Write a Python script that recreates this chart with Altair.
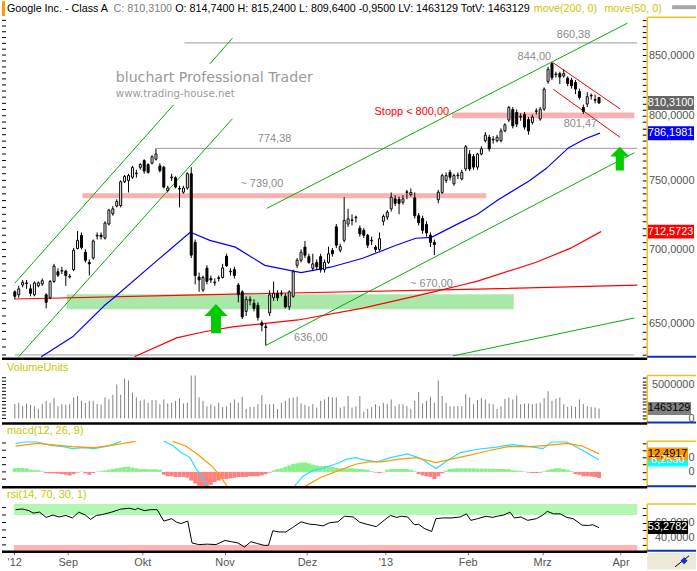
import altair as alt
import pandas as pd

FONT = "Liberation Sans"

# ---------------- price data (index = trading day, 0 = 15 Aug 2012) ----------------
opens = [671,669,675.6,676.5,673,669,675,676.3,669,667,
         678,684.6,685,685,681,686,700.7,710,698,691,
         694,709.5,710,708,718,725.4,731,731.4,749,750,
         752.4,755,759.8,765,762,763,766,761,760,742.4,
         752,752,744,741.2,744.3,755,705,681,672.2,687,
         680,677,680,680.7,695.3,684.6,686,675.6,671,658,
         665,663.4,662,650.5,648,657,667,670,669.5,668,
         661,668,689,692.5,701.7,695,687,691,695,686,
         691,699.4,716,699.4,706.4,718,720.5,722.5,715,713.5,
         710,706,701.7,700,720,723,729,736.3,736,733.8,
         741,739.5,737,724,722,717.7,710,705,735.6,741,
         750,756,747.4,753.5,751,758.6,770,768,760,770,
         780.3,783,781,780.3,780.3,788,796.6,805,802.6,799,
         801,797,794.7,803.5,797.4,805.3,828,842.8,833.5,834.4,
         832.5,830.6,829,827,819.7,806.6,809.4,816,813,814.74]
highs = [672,675,679,679,676,678,678,680,670,679,
         690,687,688,686,683,701,713,712,700,693,
         707,712,712,720,729,731,736,750,754,755,
         761,758,763,766,763,769,774.38,763,761,746,
         755,753,746,746,756,760,707,684,682,689,
         682,680,682,690,697,687,688,677,672,668,
         668,666,664,652,650,672,678,672,672,670,
         672,686,694,700,706,697,697,693,697,693,
         702,701,718,704,737.5,729,725,724,717,715,
         711,709,703,712,725,728,741,739,738,739,
         743,744,741,726,724,720,712,707,743,755,
         756,758,755,756,758,777,773,770,771,776,
         787,785,784,785,790,794,808,807,805,802,
         803,799,801,806,807,823,840,844,836,836,
         838,832,831,829,822,809,819,818,817,815.24]
lows = [666,667,674,673,668,668,674,675,660,666,
        677,681,683,675,680,685,700,700,691,682,
        693,707,707,707,717,724,730,730,748,741,
        751,752,758,755,755,762,765,756,744,741,
        749.5,744,730,740,743,694,676,671,671,676,
        677,675,678,680,688,682,680,664,653,655,
        662,658,652,645,636,655,665,665,668,660,
        659,667,687,691,694,690,685,686,684,684,
        690,695,701,698,705,716,717,719,709,708,
        701,703,698,699,717,721,727,731,725,732,
        736,738,722,717,711,709,701.7,696,733,740,
        748,750,746,751,750,757,757,758,758,769,
        779,772,778,779,779,787,795,790,791,796,
        789,785,793,801,796,804,826,829,831,825.7,
        831,824,822,817.6,813,801.47,807,813,810,809.64]
closes = [668,673,677.4,677,670,677,677,678.5,664,678,
          688.5,682.3,685.5,682,681.5,699.4,706.4,701.4,692.5,690,
          706,710,709,718.7,728,729,734.4,749,753,753.6,
          759.8,755.5,762,757,756,768,770,757.3,745,744.3,
          752.5,745,743.5,744.3,755,696,682,679,680.7,678,
          679,677.5,680.5,687.2,688.6,685,682,669,654.4,666,
          666,660,654,649,647.5,669,670,667,670,661,
          671,684.6,692.5,698,696,691,690,688,686,691,
          697,697,703,702,720.6,721.7,721,723,711,710,
          703,706.5,700,707.6,723.5,726.6,737.5,733,733,736.3,
          741.5,741,724,719,713.5,711.6,705,703.4,741.2,753.6,
          753.6,752.4,753.6,754,756,775.6,758.6,760,770,774,
          784.7,774,781.5,783,788,792.8,806.6,792,793.4,799.5,
          791,788,799,804,805.3,821.6,838,831,834,831.6,
          834.4,826.2,824.4,821.6,814.8,803.4,815.4,816.5,812.5,810.31]
# volume in millions
volumes_m = [2.1,2.3,1.8,2.2,2.0,1.8,1.4,2.1,2.6,2.3,
             3.0,1.8,2.1,2.0,2.1,3.1,3.3,2.6,2.3,2.6,
             2.6,2.1,2.0,3.1,2.8,3.5,5.0,3.5,5.9,5.6,
             3.8,3.1,2.6,2.8,2.3,2.7,2.7,2.1,2.8,2.2,
             2.3,2.6,3.0,2.2,2.3,6.4,6.4,3.1,2.6,1.8,
             2.1,1.8,2.3,1.7,1.8,2.3,2.8,2.3,3.2,1.4,
             1.7,1.7,2.1,3.4,2.1,2.1,2.1,1.4,2.3,2.6,
             3.0,3.1,3.2,2.2,2.0,1.8,2.1,1.6,2.6,2.8,
             3.2,3.1,3.1,1.6,1.8,3.3,1.6,1.8,3.3,1.0,
             1.4,1.7,2.1,1.8,2.3,2.1,2.8,1.8,2.1,2.1,
             1.8,1.4,2.6,3.9,2.2,2.6,3.2,2.3,5.6,3.3,
             2.3,1.8,1.8,1.8,1.8,3.6,3.1,2.1,2.7,3.0,
             2.8,2.2,2.1,1.4,1.8,2.9,3.1,2.8,3.4,2.1,
             2.2,2.2,2.1,2.2,2.3,3.0,4.0,2.6,2.9,3.1,
             2.1,1.7,1.8,1.7,2.8,2.1,1.8,1.7,1.6,1.463129]

# moving averages
ma50_i = [6.75,14.75,23,25.5,35.5,44.75,49.75,56.25,63.75,73,80.5,88.75,97.25,102.25,106.25,113.75,118,123,131.25,135.5,141.25,145.5,149.25]
ma50_p = [628.2,641.5,662.2,667.5,690.5,712.1,706.4,701.6,689.0,684.0,687.7,693.9,702.9,707.9,708.5,719.2,725.0,735.1,749.8,758.9,774.9,781.9,786.2]
ma200_i = [30.5,41.25,48,55.5,72.25,88.75,105.5,113.75,118,133,141.75,149.5]
ma200_p = [628.0,640.8,644.6,647.9,652.4,660.2,670.1,675.4,678.2,691.1,700.9,712.57]
flat_i = [0,55.5,118,158.75]
flat_p = [666.2,669.4,672.8,675.5]

# trend lines (segment, index, price)
trend_seg = ["A1","A1","A2","A2","B","B","C","C","D","D","E","E"]
trend_i = [0,40.5,49.75,55.5,1,55.5,64.25,156.25,64,158,111.75,158]
trend_p = [676.8,808.8,842.5,864.5,628.8,797.6,729.3,877.5,636.0,771.0,629.4,653.7]
down_seg = ["U","U","L","L"]
down_i = [137.3,154.4,137.3,154.4]
down_p = [843.5,805.4,821.5,782.9]

# horizontal levels
hl_x0 = [43.25,36.25,0]
hl_x1 = [158.75,158.75,158]
hl_p = [860.38,774.38,630]
band_x0 = [13.25,17.25,111.5]
band_x1 = [127.25,120.25,158]
band_lo = [659.5,736.8,798.1]
band_hi = [669.4,740.5,802.6]
band_col = ["#aae8aa","#f9b2b2","#f9b2b2"]

# annotations
ann_t = ["860,38","844,00","Stopp < 800,00","801,47","774,38","~ 739,00","~ 670,00","636,00"]
ann_i = [142.5,132.5,101.25,144.25,66.25,63,106.25,75.5]
ann_p = [867.2,848.4,803.2,793.6,781.9,747.6,676.1,640.8]
ann_c = ["#8c8c8c","#8c8c8c","#ff0000","#8c8c8c","#8c8c8c","#8c8c8c","#8c8c8c","#8c8c8c"]
arrow_i = [51.3,154.3]
arrow_p = [653.3,766.5]
arrow_s = [858,576]

# MACD
macd_seg = [0]*11 + [1]*7 + [2]*26
macd_i = [0.2,2.4,5.8,9.1,12.4,14.7,17.4,20.2,23.6,25.8,27.1,
          38,40.2,42.4,44.7,46.3,48,49.1,
          71.3,73.6,75.8,78,80.2,82.4,84.7,86.9,89.1,92.4,95.8,100.2,103.6,107.4,110.2,113.6,118,122.4,126.9,131.3,134.7,136.9,140.8,142.4,145.8,149]
macd_v = [19.8,20.7,20.7,18.4,17.5,16.1,16.8,16.1,17.9,19.8,21.17,
          21.17,18.4,13.4,9.9,1.9,-5.0,-9.86,
          -9.86,-2.8,0.7,2.3,4.1,6.0,8.8,9.9,8.3,6.9,9.9,12.4,9.2,2.3,7.6,13.4,15.7,17.0,18.9,17.5,16.1,20.7,20.7,18.4,13.4,8.25]
sig_seg = [0]*7 + [1]*6 + [2]*18
sig_i = [0.2,5.8,9.1,14.7,20.2,24.7,30.8,
         40.2,43.6,46.9,50.2,52.4,54.1,
         74.1,78,82.4,86.9,90.2,93.6,98,102.4,107.4,111.3,115.8,120.2,125.8,131.3,135.8,140.8,144.7,149]
sig_v = [17.9,19.8,18.9,17.5,16.8,18.4,21.17,
         21.17,17.9,11.5,4.1,-2.8,-9.86,
         -9.86,-3.9,0.7,5.3,6.9,6.9,8.8,9.9,6.5,8.8,11.5,14.3,17.5,17.5,18.4,19.8,17.9,12.49]
hist = [2.5,2.8,2.8,2.5,1.5,1.2,1.2,0.5,-0.8,-1,
        -1,-1.2,-1.5,-2,-2.5,-1.5,-0.5,0.3,-1,-2,
        -0.8,0.3,0.5,1,1.5,2,2.5,3,3.5,3.5,
        3,2.5,2,2,1.8,1.8,1.8,1.5,-2,-3,
        -3,-3.5,-3.5,-3.5,-4,-6,-8,-10,-10,-10,
        -9,-7,-6,-5,-5,-4.5,-4,-3.5,-3.5,-3.5,
        -3,-3,-3,-2.5,-1.5,-0.5,1,2,2.5,3.5,
        4.5,5.5,6,6.5,6.5,6,5,4.5,4,4,
        4,3.5,3,2.5,2.5,2.5,2.5,2.2,2,1.8,
        1.5,0.5,-0.5,-0.8,-0.3,1.5,2,2,2,2,
        2,1.5,0.5,-1.5,-2.5,-3,-3.5,-5,-3,-1,
        1,2,2.3,2.5,2.5,2.5,2.5,2.5,2.3,2.3,
        2.3,2.2,2.2,2,2,2,1.8,1.2,1,0.8,
        0.3,-0.5,-0.8,-0.8,-0.5,0.5,1.5,2,2.5,2.5,
        2,1.5,0.5,-1.5,-2,-3,-3,-3.2,-3.5,-4.2]

# RSI
rsi_i = [0.2,1.9,3.6,4.7,6.3,8,9.7,11.3,13,14.7,16.3,18,19.3,20.8,22.4,24.7,26.9,29.1,30.8,31.3,
         33,34.7,36.3,38,40,41.3,42.4,44.1,45.2,46.9,49.1,51.3,53.6,55.2,56.9,58.6,60.2,61.9,63.6,64.7,
         65.8,67.4,69.1,70.8,73,75.2,76.9,78.6,80.2,82.4,84.1,86.3,88,89.7,92.2,94.7,95.8,97.4,98.6,100.2,
         101.9,103,104.4,106.3,107.4,109.1,111.3,113.6,115.2,116.3,118,120.2,121.9,123,124.7,126.3,127.4,129.1,130.8,133,
         134.7,135.8,137.4,139.1,140.8,142.4,144.7,146.3,147.4,148.6,149]
rsi_v = [77.2,78.1,75.9,72.6,73.9,66.8,70,67.4,69.4,66.1,73.9,70,64.2,69.4,70.7,73.9,77.8,79.1,77.2,79.1,
         75.9,77.2,77.2,61.9,65.1,60.3,58.6,61.9,32.6,30.4,31,30.4,35.9,34.3,32.6,27.1,34.3,31.7,29.4,29.4,
         48.9,47.3,47.3,53.1,60.9,57.7,57,55.4,59.6,60.9,68.4,67.4,60.3,57.7,54.4,65.1,69.4,66.8,68.4,67.4,
         57,57.7,52.1,47.9,65.1,66.1,66.1,67.4,71.6,62.9,65.1,68.4,66.8,68.4,70,73.9,66.1,67.4,62.9,65.1,
         70,74.9,71.6,71.6,66.8,65.1,56.4,56,57,54,53.28]

month_pos = [-0.15, 13.5, 32.5, 53.5, 74.5, 94.5, 115.5, 134.5, 154.5]
month_lab = ["'12", "Sep", "Okt", "Nov", "Dez", "'13", "Feb", "Mrz", "Apr"]

header = [("Google Inc. - Class A", 5, "#000000"),
          ("C: 810,3100", 112, "#808080"),
          ("O: 814,7400 H: 815,2400 L: 809,6400 -0,9500 LV: 1463129 TotV: 1463129", 174, "#000000"),
          ("move(200, 0)", 534, "#c8c800"),
          ("move(50, 0)", 605, "#c8c800")]

# ---------------- helpers ----------------
one = pd.DataFrame({"k": [0]})
N = len(closes)
idx = list(range(N))

xscale = alt.Scale(domain=[-2, 158.75], nice=False, zero=False)
pos_js = "[" + ",".join(repr(float(v)) for v in month_pos) + "]"
lab_js = "[" + ",".join('"' + s + '"' for s in month_lab) + "]"
x_expr = lab_js + "[indexof(" + pos_js + ", datum.value)]"
xaxis = alt.Axis(values=month_pos, labelExpr=x_expr, title=None, grid=False, domain=False,
                 ticks=True, tickSize=3, tickColor="#777777", labelColor="#555555",
                 labelFont=FONT, labelFontSize=11, labelPadding=2, labelOverlap=False,
                 labelFlush=False)


def X(f):
    return alt.X(f, type="quantitative", scale=xscale, axis=xaxis)


def yaxis(values, expr):
    return alt.Axis(orient="right", values=values, labelExpr=expr, title=None, grid=False,
                    domain=False, ticks=True, tickSize=4, tickColor="black",
                    labelAlign="right", labelPadding=48, labelColor="#555555",
                    labelFont=FONT, labelFontSize=11, labelOverlap=False)


def box_path(w, h):
    r = h / w
    return f"M-1,-{r:.3f}L1,-{r:.3f}L1,{r:.3f}L-1,{r:.3f}Z"


ARROW = "M0,-1L0.8,-0.18L0.34,-0.18L0.34,1L-0.34,1L-0.34,-0.18L-0.8,-0.18Z"

# ---------------- main price panel ----------------
pscale = alt.Scale(type="log", domain=[628.9, 882.8], range=[341, 0], nice=False, zero=False, clamp=True)
price_ticks = list(range(630, 881, 5))
paxis = yaxis(price_ticks, "datum.value % 50 == 0 ? replace(format(datum.value, '.4f'), '.', ',') : ''")


def YP(f):
    return alt.Y(f, type="quantitative", scale=pscale, axis=paxis)


cdf = pd.DataFrame({"i": idx, "o": opens, "h": highs, "l": lows, "c": closes})
band_df = pd.DataFrame({"x0": band_x0, "x1": band_x1, "p0": band_lo, "p1": band_hi, "col": band_col})
hl_df = pd.DataFrame({"x0": hl_x0, "x1": hl_x1, "p": hl_p})
trend_df = pd.DataFrame({"seg": trend_seg, "i": trend_i, "p": trend_p})
down_df = pd.DataFrame({"seg": down_seg, "i": down_i, "p": down_p})
ma50_df = pd.DataFrame({"i": ma50_i, "p": ma50_p})
ma200_df = pd.DataFrame({"i": ma200_i, "p": ma200_p})
flat_df = pd.DataFrame({"i": flat_i, "p": flat_p})
ann_df = pd.DataFrame({"i": ann_i, "p": ann_p, "t": ann_t, "col": ann_c})
arrow_df = pd.DataFrame({"i": arrow_i, "p": arrow_p, "s": arrow_s})
ptick_df = pd.DataFrame({"p": price_ticks})
wm_df = pd.DataFrame({"i": [25.75, 25.75], "p": [830.8, 817.7],
                      "t": ["bluchart Professional Trader", "www.trading-house.net"]})

main_layers = [
    alt.Chart(band_df).mark_rect().encode(x=X("x0"), x2="x1", y=YP("p0"), y2="p1",
                                          color=alt.Color("col:N", scale=None)),
    alt.Chart(hl_df).mark_rule(color="#9a9a9a", strokeWidth=1).encode(x=X("x0"), x2="x1", y=YP("p")),
    alt.Chart(trend_df).mark_line(color="#00b000", strokeWidth=1).encode(x=X("i"), y=YP("p"), detail="seg:N"),
    alt.Chart(flat_df).mark_line(color="#ff0000", strokeWidth=1.2).encode(x=X("i"), y=YP("p")),
    alt.Chart(ma200_df).mark_line(color="#ff0000", strokeWidth=1.2).encode(x=X("i"), y=YP("p")),
    alt.Chart(ma50_df).mark_line(color="#0000ff", strokeWidth=1.2).encode(x=X("i"), y=YP("p")),
    alt.Chart(down_df).mark_line(color="#ff0000", strokeWidth=1).encode(x=X("i"), y=YP("p"), detail="seg:N"),
    alt.Chart(wm_df.iloc[:1]).mark_text(align="left", baseline="middle", font="DejaVu Sans", fontSize=14.2,
                                       color="#9a9a9a").encode(x=X("i"), y=YP("p"), text="t:N"),
    alt.Chart(wm_df.iloc[1:]).mark_text(align="left", baseline="middle", font="DejaVu Sans", fontSize=10.3,
                                       color="#9a9a9a").encode(x=X("i"), y=YP("p"), text="t:N"),
    alt.Chart(ann_df).mark_text(align="center", baseline="middle", font=FONT, fontSize=11).encode(
        x=X("i"), y=YP("p"), text="t:N", color=alt.Color("col:N", scale=None)),
    alt.Chart(cdf).mark_rule(color="black", strokeWidth=1).encode(x=X("i"), y=YP("l"), y2="h"),
    alt.Chart(cdf).mark_bar(size=2, stroke="black", strokeWidth=1).encode(
        x=X("i"), y=YP("o"), y2="c",
        fill=alt.condition("datum.c >= datum.o", alt.value("white"), alt.value("black"))),
    alt.Chart(arrow_df).mark_point(shape=ARROW, filled=True, color="#00cc00", opacity=1).encode(
        x=X("i"), y=YP("p"), size=alt.Size("s:Q", scale=None)),
    alt.Chart(ptick_df).mark_rule(color="black", strokeWidth=1).encode(x=alt.value(0), x2=alt.value(4), y=YP("p")),
]
pbox_df = pd.DataFrame({"p": [810.31, 786.1981, 712.5723], "t": ["810,3100", "786,1981", "712,5723"],
                        "bg": ["#666666", "#0000ff", "#ff0000"]})
main_layers.append(alt.Chart(pbox_df).mark_point(shape=box_path(47, 14), filled=True, size=47 * 47, opacity=1).encode(
    x=alt.value(671.5), y=YP("p"), color=alt.Color("bg:N", scale=None)))
main_layers.append(alt.Chart(pbox_df).mark_text(font=FONT, fontSize=11, color="white").encode(
    x=alt.value(671.5), y=YP("p"), text="t:N"))
main = alt.layer(*main_layers)

# ---------------- volume panel ----------------
vscale = alt.Scale(domain=[-0.59, 6.32], range=[407, 360], nice=False, zero=False, clamp=True)
vticks = [k * 0.5 for k in range(13)]
vaxis = yaxis(vticks, "datum.value == 5 ? '5000000' : (datum.value == 0 ? '0' : '')")


def YV(f):
    return alt.Y(f, type="quantitative", scale=vscale, axis=vaxis)


vdf = pd.DataFrame({"i": idx, "v": volumes_m, "zero": 0.0})
vbox = pd.DataFrame({"v": [1.463129], "t": ["1463129"]})
vol = alt.layer(
    alt.Chart(vdf).mark_rule(color="#808080", strokeWidth=1).encode(x=X("i"), y=YV("v"), y2="zero"),
    alt.Chart(pd.DataFrame({"v": vticks})).mark_rule(color="black").encode(x=alt.value(0), x2=alt.value(4), y=YV("v")),
    alt.Chart(vbox).mark_point(shape=box_path(44, 13), filled=True, size=44 * 44, opacity=1, color="#808080").encode(
        x=alt.value(670), y=YV("v")),
    alt.Chart(vbox).mark_text(font=FONT, fontSize=11, color="black").encode(x=alt.value(670), y=YV("v"), text="t:N"),
)

# ---------------- MACD panel ----------------
mscale = alt.Scale(domain=[-9.86, 21.17], range=[471, 426], nice=False, zero=False, clamp=True)
mticks = [-5, 0, 5, 10, 15, 20]
maxis = yaxis(mticks, "datum.value == 0 || datum.value == 10 ? format(datum.value, 'd') : ''")


def YM(f):
    return alt.Y(f, type="quantitative", scale=mscale, axis=maxis)


hdf = pd.DataFrame({"i": idx, "h": hist, "zero": 0.0})
mdf = pd.DataFrame({"seg": macd_seg, "i": macd_i, "v": macd_v})
sdf = pd.DataFrame({"seg": sig_seg, "i": sig_i, "v": sig_v})
mbox = pd.DataFrame({"v": [8.253, 12.4917], "t": ["8,2530", "12,4917"], "bg": ["#00ffff", "#ff9900"],
                     "fg": ["white", "black"]})
macd = alt.layer(
    alt.Chart(hdf).mark_bar(size=4).encode(
        x=X("i"), y=YM("h"), y2="zero",
        color=alt.condition("datum.h >= 0", alt.value("#88f088"), alt.value("#ff8080"))),
    alt.Chart(mdf).mark_line(color="#22e0ff", strokeWidth=1.2).encode(x=X("i"), y=YM("v"), detail="seg:N"),
    alt.Chart(sdf).mark_line(color="#ff9900", strokeWidth=1.2).encode(x=X("i"), y=YM("v"), detail="seg:N"),
    alt.Chart(pd.DataFrame({"v": mticks})).mark_rule(color="black").encode(x=alt.value(0), x2=alt.value(4), y=YM("v")),
    alt.Chart(mbox).mark_point(shape=box_path(41, 13), filled=True, size=41 * 41, opacity=1).encode(
        x=alt.value(668.5), y=YM("v"), color=alt.Color("bg:N", scale=None)),
    alt.Chart(mbox).mark_text(font=FONT, fontSize=11).encode(
        x=alt.value(668.5), y=YM("v"), text="t:N", color=alt.Color("fg:N", scale=None)),
)

# ---------------- RSI panel ----------------
rscale = alt.Scale(domain=[22, 84.7], range=[536, 489], nice=False, zero=False, clamp=True)
rticks = [30, 40, 50, 60, 70, 80]
raxis = yaxis(rticks, "datum.value == 40 || datum.value == 60 ? replace(format(datum.value, '.4f'), '.', ',') : ''")


def YR(f):
    return alt.Y(f, type="quantitative", scale=rscale, axis=raxis)


rband = pd.DataFrame({"x0": [-0.25, -0.25], "x1": [158.75, 158.75], "a": [70, 22], "b": [84.7, 30],
                      "col": ["#b3f7b3", "#ffb3b3"]})
rdf = pd.DataFrame({"i": rsi_i, "v": rsi_v})
rbox = pd.DataFrame({"v": [53.2782], "t": ["53,2782"]})
rsi = alt.layer(
    alt.Chart(rband).mark_rect().encode(x=X("x0"), x2="x1", y=YR("a"), y2="b", color=alt.Color("col:N", scale=None)),
    alt.Chart(rdf).mark_line(color="black", strokeWidth=1).encode(x=X("i"), y=YR("v")),
    alt.Chart(pd.DataFrame({"v": rticks})).mark_rule(color="black").encode(x=alt.value(0), x2=alt.value(4), y=YR("v")),
    alt.Chart(rbox).mark_point(shape=box_path(41, 13), filled=True, size=41 * 41, opacity=1, color="black").encode(
        x=alt.value(668.5), y=YR("v")),
    alt.Chart(rbox).mark_text(font=FONT, fontSize=11, color="white").encode(x=alt.value(668.5), y=YR("v"), text="t:N"),
)

# ---------------- frame decorations (pixel layout) ----------------


def prule(x, x2, y, y2, color, w):
    return alt.Chart(one).mark_rule(color=color, strokeWidth=w).encode(
        x=alt.value(x), x2=alt.value(x2), y=alt.value(y), y2=alt.value(y2))


def prect(x, x2, y, y2, color):
    return alt.Chart(one).mark_rect(color=color).encode(
        x=alt.value(x), x2=alt.value(x2), y=alt.value(y), y2=alt.value(y2))


def ptext(txt, x, y, color, size=11):
    return alt.Chart(one).mark_text(text=txt, align="left", baseline="middle", font=FONT,
                                    fontSize=size, color=color).encode(x=alt.value(x), y=alt.value(y))


deco = [prect(0, 3, -16, -1, "#ff9900"), prect(673, 697, -12, -8, "#a8a8a8")]
for txt, px, col in header:
    deco.append(ptext(txt, px, -8, col, 10.8))
for top, bot in [(0, 341), (360, 407), (426, 471), (489, 536)]:
    deco.append(prule(648, 648, top, bot, "#f0c020", 1.5))
    deco.append(prule(648, 697, top, top, "#f0c020", 1.5))
    deco.append(prule(648, 697, bot, bot, "#1030c0", 2))
for ys in [343, 408, 472, 537]:
    deco.append(prule(0, 648, ys, ys, "black", 2.5))
deco.append(ptext("VolumeUnits", 5, 352, "#c8c800"))
deco.append(ptext("macd(12, 26, 9)", 5, 416, "#c8c800"))
deco.append(ptext("rsi(14, 70, 30, 1)", 5, 480, "#c8c800"))
deco.append(prect(648, 697, 538, 555, "#ece9d8"))
deco.append(prule(676, 690, 552, 541, "black", 1))
deco.append(alt.Chart(one).mark_point(shape="diamond", filled=True, size=50, color="#1030e0", opacity=1).encode(
    x=alt.value(685), y=alt.value(546)))
decoration = alt.layer(*deco)

chart = alt.layer(main, vol, macd, rsi, decoration).resolve_scale(y="independent").properties(
    width=643, height=537, padding=0
).configure(font=FONT, background="white").configure_view(strokeWidth=0)

chart.save("out.html", embed_options={"renderer": "svg", "actions": False})
